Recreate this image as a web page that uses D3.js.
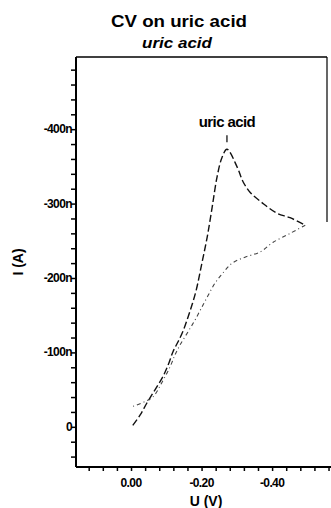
<!DOCTYPE html>
<html><head><meta charset="utf-8">
<script src="https://cdn.jsdelivr.net/npm/d3@7"></script>
<style>
html,body{margin:0;padding:0;background:#fff;}
svg text{font-family:"Liberation Sans",Arial,Helvetica,sans-serif;fill:#000;}
</style></head>
<body><svg id="c" width="331" height="508"></svg>
<script>
// Data (potential in V, current in nA; negative current plotted upward)
const forwardU = [-0.005,-0.026,-0.045,-0.071,-0.091,-0.106,-0.119,-0.133,-0.147,-0.162,-0.173,-0.185,-0.201,-0.216,-0.230,-0.244,-0.258,-0.272,-0.301,-0.318,-0.338,-0.372,-0.414,-0.451,-0.494];
const forwardI = [-2,-16,-32,-52,-68,-84,-101,-114,-128,-148,-164,-184,-220,-255,-295,-336,-362,-373,-349,-329,-315,-301,-287,-281,-271];
const reverseU = [-0.494,-0.451,-0.403,-0.366,-0.323,-0.287,-0.261,-0.238,-0.218,-0.200,-0.182,-0.162,-0.139,-0.125,-0.111,-0.088,-0.062,-0.040,-0.003];
const reverseI = [-271,-260,-248,-235,-228,-220,-207,-193,-176,-160,-144,-128,-110,-97,-81,-60,-40,-34,-27];
const xTickValues = [0.00,-0.20,-0.40];
const xTickLabels = ["0.00","-0.20","-0.40"];
const yTickValues = [0,-100,-200,-300,-400];
const yTickLabels = ["0","-100n","-200n","-300n","-400n"];
const title = "CV on uric acid";
const subtitle = "uric acid";
const peakLabel = "uric acid";
const xLabel = "U (V)";
const yLabel = "I (A)";

const svg = d3.select("#c");
const L = 76, R = 331, T = 57, B = 467;
const x = d3.scaleLinear().domain([0.156, -0.567]).range([L, R]);
const y = d3.scaleLinear().domain([54, -497]).range([B, T]);

// minor ticks
const xMinor = d3.range(0.12, -0.57, -0.04).map(v => +v.toFixed(2));
const yMinor = d3.range(40, -500, -20);

const gx = svg.append("g").attr("transform", `translate(0,${B})`)
  .call(d3.axisBottom(x).tickValues(xMinor).tickSize(4).tickFormat(""));
gx.select(".domain").remove();
gx.selectAll("line").attr("stroke","#000").attr("stroke-width",1.5);
const gy = svg.append("g").attr("transform", `translate(${L},0)`)
  .call(d3.axisLeft(y).tickValues(yMinor).tickSize(5).tickFormat(""));
gy.select(".domain").remove();
gy.selectAll("line").attr("stroke","#000").attr("stroke-width",1.5);

// axis lines and partial frame
svg.append("line").attr("x1",L).attr("x2",R).attr("y1",B).attr("y2",B).attr("stroke","#000").attr("stroke-width",2);
svg.append("line").attr("x1",L).attr("x2",L).attr("y1",T).attr("y2",B).attr("stroke","#000").attr("stroke-width",2);
svg.append("line").attr("x1",L).attr("x2",327).attr("y1",T).attr("y2",T).attr("stroke","#000").attr("stroke-width",1.5);
svg.append("line").attr("x1",327).attr("x2",327).attr("y1",T).attr("y2",222).attr("stroke","#000").attr("stroke-width",1.2);

// tick labels
svg.selectAll(".xl").data(xTickValues).enter().append("text")
  .attr("x", d => x(d)).attr("y", 487).attr("text-anchor","middle")
  .attr("font-size",12).attr("font-weight","bold").attr("letter-spacing",-0.6)
  .text((d,i) => xTickLabels[i]);
svg.selectAll(".yl").data(yTickValues).enter().append("text")
  .attr("x", 72).attr("y", d => y(d)+4).attr("text-anchor","end")
  .attr("font-size",12).attr("font-weight","bold").attr("letter-spacing",-0.6)
  .text((d,i) => yTickLabels[i]);

// titles
svg.append("text").attr("x",179).attr("y",27).attr("text-anchor","middle")
  .attr("font-size",17).attr("font-weight","bold")
  .attr("textLength",136).attr("lengthAdjust","spacingAndGlyphs").text(title);
svg.append("text").attr("x",177).attr("y",48).attr("text-anchor","middle")
  .attr("font-size",14).attr("font-weight","bold").attr("font-style","italic")
  .attr("textLength",70).attr("lengthAdjust","spacingAndGlyphs").text(subtitle);
svg.append("text").attr("x",206).attr("y",506).attr("text-anchor","middle")
  .attr("font-size",14).attr("font-weight","bold").text(xLabel);
svg.append("text").attr("transform","translate(23,262) rotate(-90)").attr("text-anchor","middle")
  .attr("font-size",14).attr("font-weight","bold").text(yLabel);

// curves
const line = d3.line().x(d => x(d[0])).y(d => y(d[1])).curve(d3.curveCatmullRom.alpha(0.5));
const fwd = forwardU.map((u,i) => [u, forwardI[i]]);
const rev = reverseU.map((u,i) => [u, reverseI[i]]);
svg.append("path").attr("d", line(fwd)).attr("fill","none").attr("stroke","#111")
  .attr("stroke-width",1.4).attr("stroke-dasharray","7,3");
svg.append("path").attr("d", line(rev)).attr("fill","none").attr("stroke","#444")
  .attr("stroke-width",1.1).attr("stroke-dasharray","4,3,1,3");

// peak annotation
const peakIdx = forwardI.indexOf(d3.min(forwardI));
const px = x(forwardU[peakIdx]), py = y(forwardI[peakIdx]);
svg.append("line").attr("x1",px).attr("x2",px).attr("y1",py-14).attr("y2",py-7)
  .attr("stroke","#000").attr("stroke-width",1.2);
svg.append("text").attr("x",px).attr("y",127).attr("text-anchor","middle")
  .attr("font-size",15).attr("font-weight","bold").attr("letter-spacing",-0.6).text(peakLabel);
</script></body></html>
